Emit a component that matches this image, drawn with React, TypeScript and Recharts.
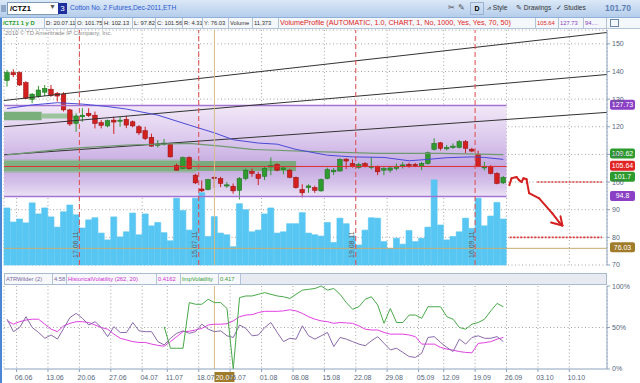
import React from "react";
import {
  ComposedChart,
  Bar,
  Line,
  XAxis,
  YAxis,
  CartesianGrid,
  ReferenceLine,
  ReferenceArea,
} from "recharts";

// trading days 02.06.11 .. 23.09.11, then empty days up to 17.10.11
const opens = [136.7,139.6,139.6,136.0,129.9,130.9,132.5,133.6,132.1,131.8, 126.1,121.2,123.6,124.9,124.2,121.5,120.3,122.4,122.1,122.7, 121.8,120.0,118.6,116.2,113.4,113.8,113.6,106.0,104.9,108.9, 102.5,97.5,97.3,101.75,101.3,98.8,98.5,97.0,101.3,103.9, 102.8,102.1,105.5,106.4,104.5,104.3,101.7,97.3,98.0,98.0, 96.8,101.3,103.7,104.0,108.3,106.7,105.3,106.7,105.3,105.7, 104.3,104.3,104.9,106.0,106.4,106.4,105.7,106.7,111.8,114.2, 112.0,112.5,112.5,114.6,111.9,110.1,105.1,105.7,103.1,99.7];
const highs = [140.6,140.8,140.0,136.5,132.2,134.8,135.1,135.1,132.6,132.5, 126.5,124.9,126.7,126.7,125.5,122.4,122.6,123.6,123.6,124.0, 122.3,120.6,120.0,117.5,115.2,115.6,114.0,106.7,109.3,109.3, 103.0,100.6,101.2,102.13,101.9,100.0,99.5,101.8,104.9,104.9, 103.7,105.8,108.9,106.8,105.7,104.8,102.0,99.2,99.2,98.7, 101.3,105.2,105.0,108.6,108.6,108.2,107.0,107.2,109.0,106.0, 105.5,105.5,106.7,107.2,107.0,106.9,107.3,111.0,115.8,114.5, 113.4,114.0,115.2,115.2,112.4,111.4,107.3,106.1,103.6,102.2];
const lows = [134.5,138.0,134.8,130.0,128.5,130.5,131.1,130.8,129.1,125.5, 120.3,118.2,121.8,123.5,119.4,119.4,119.8,117.4,120.0,119.5, 119.8,117.0,115.2,112.8,112.5,113.2,108.9,104.1,104.7,104.5, 99.3,96.4,97.0,97.82,98.2,97.9,95.8,93.7,100.6,101.9, 98.9,100.7,102.5,103.9,102.8,101.4,97.6,94.4,96.1,96.1, 96.5,101.0,102.6,103.7,104.7,105.2,104.8,105.3,104.6,102.5, 102.5,103.4,104.2,104.9,105.2,105.4,104.3,106.3,111.4,111.4, 111.4,112.0,112.2,110.5,110.8,105.4,104.2,102.8,99.2,99.3];
const closes = [139.6,138.8,135.1,130.3,131.8,133.3,133.9,131.3,131.1,126.1, 121.0,123.9,124.2,124.0,121.2,120.5,122.2,121.7,122.4,120.6, 120.3,117.8,115.7,113.0,113.7,114.1,109.1,104.3,108.8,104.8, 99.7,96.8,100.9,101.56,99.5,99.0,96.8,101.3,104.3,103.1, 101.3,104.9,105.9,104.3,105.1,101.7,98.0,96.1,98.6,97.0, 100.9,104.5,104.3,108.2,107.6,105.7,106.4,105.7,105.7,103.7, 104.9,105.1,105.7,106.2,105.9,105.9,106.7,110.6,114.0,112.2, 112.5,113.0,114.6,112.2,111.2,105.7,105.7,103.1,99.5,101.7];
const volumes = [13400,10100,10800,9900,14600,12000,13400,11300,8900,12500, 14100,11800,8700,10600,11100,7500,5900,11300,6600,7800, 12200,7100,12000,9200,10000,7600,5700,15700,12800,8200, 15700,17000,6700,11373,7500,7100,4300,14400,13000,7800, 8200,12000,13400,7500,7800,9700,9700,12300,7500,7100, 6800,10000,5300,11000,9700,6800,4700,8200,11100,11000, 5500,3900,6300,4900,8100,5500,6300,8900,20000,9400, 5900,6700,7800,11000,8600,15700,9200,11500,14700,10800];

// moving averages, read at sample days
const fastMaDays = [0,4,8,12,16,19,24,29,33,36,40,43,46,51,55,60,64,67,70,74,76,79];
const fastMa = [126.6,127.9,128.7,128.2,127.3,126.4,124.2,120.6,117.8,115.3,114.1,113.7,111.8,109.7,109.1,108.9,107.7,108.2,108.8,109.1,108.9,108.2];
const slowMaDays = [0,10,19,29,34,39,49,59,69,79];
const slowMa = [109.8,112.2,113.4,114.0,113.0,111.8,111.0,110.4,110.4,109.9];

// lower study pane (plotted in %)
const atr = [60,45,50,63,50,44,37,41,36,49, 62,67,61,53,57,50,39,51,44,44, 56,46,45,45,33,29,37,43,46,43, 45,54,48,45,46,40,38,53,49,40, 41,50,56,44,33,37,36,52,40,36, 40,44,27,38,36,33,30,28,34,39, 31,23,25,20,15,14,19,38,39,32, 26,21,36,30,38,40,37,37,39,33];
const histVol = [58,54,57,59,60,60,54,48,45,52, 55,57,57,56,53,50,48,42,37,35, 33,32,32,30,28.5,27.5,33,39,45,45.5, 47,49,53,54,54,54.5,58,63,65,65.5, 68,69.5,69.5,69.5,70,71.4,70,67,63,60, 58,57,55,56,55.5,55,52,48,47,47, 44,42,42,42,41,39,30,30,30,26, 24,22.7,21,20,19.5,30.8,31.7,33,36,38];
const impVolStart = 25;
const impVol = [51,25,25,25,80,78,78,84,80,80, 73,0,86,88,88,90,92,90,88,87, 85,90,95,96,97,100,95,97,90,80, 72,75,84,87,77,55,73,56,56,65, 65,61,75,75,75,63,60,50,48,54, 56,60,70,79,75];

// week ticks (Monday boundaries) and labels
const tickPos = [1.5,6.5,11.5,16.5,21.5,25.5,30.5,35.5,40.5,45.5,50.5,55.5,60.5,65.5,69.5,74.5,79.5,84.5,89.5];
const tickLabels = ["06.06","13.06","20.06","27.06","04.07","11.07","18.07","25.07","01.08","08.08","15.08","22.08","29.08","05.09","12.09","19.09","26.09","03.10","10.10"];
const priceTicks = [70,80,90,100,110,120,130,140,150];

// option expiries
const expiryDays = [11,30,55,74];
const expiryLabels = ["17.06.11","15.07.11","19.08.11","16.09.11"];
const cursorDay = 33;

// volume profile
const vaHigh = 127.73;
const vaLow = 94.8;
const poc = 105.64;
const yClose = 76.03;

// drawings: trend lines [x1, y1, x2, y2]
const trendLines = [[-0.5,129.5,95.5,154.1],[-0.5,120.0,95.5,138.9],[-0.5,109.85,95.5,125.2]];
const arrowPath = [[79.96,98.9],[80.3,101.4],[81.1,101.8],[81.5,100.7],[81.9,100.0],[82.2,101.4],[82.7,101.0],[82.8,99.6],[83.1,96.0],[84.7,94.1],[86.8,88.7],[87.9,85.4],[88.4,84.3]];
const arrowHead = [[86.6,85.4],[88.4,84.3],[88.1,87.6]];
const dottedLevels = [[84.4,100,94.7],[80,80,94.7]];

// right-edge price badges (text, and where the badge sits after stacking)
const badgeText = ["127.73","109.62","105.64","101.7","94.8","76.03"];
const badgeAt = [128.0,110.3,105.9,101.9,95.0,76.4];
const badgeColors = ["#8a3fc4","#2c9a2c","#e02424","#2c9a2c","#8a3fc4","#a07c2a"];

const NDAYS = 96;
const FONT = "'Liberation Sans', Arial, sans-serif";

const mainRows = Array.from({ length: NDAYS }, (_, i) => {
  const has = i < closes.length;
  const fi = fastMaDays.indexOf(i);
  const si = slowMaDays.indexOf(i);
  return {
    k: String(i),
    i,
    hl: has ? [lows[i], highs[i]] : null,
    o: has ? opens[i] : null,
    h: has ? highs[i] : null,
    l: has ? lows[i] : null,
    c: has ? closes[i] : null,
    vol: has ? volumes[i] : null,
    fast: fi >= 0 ? fastMa[fi] : null,
    slow: si >= 0 ? slowMa[si] : null,
  };
});

const lowRows = closes.map((_, i) => ({
  i,
  atr: atr[i],
  hv: histVol[i],
  iv: i >= impVolStart ? impVol[i - impVolStart] : null,
}));

function Candle(p: any) {
  const { x, y, width, height, payload } = p;
  if (!payload || payload.hl == null || !isFinite(y)) return <g />;
  const { o, c, h, l } = payload;
  const up = c >= o;
  const py = (v: number) => y + ((h - v) / (h - l)) * height;
  const cx = x + width / 2;
  const top = py(Math.max(o, c));
  const bot = py(Math.min(o, c));
  const fill = up ? "#2f9a2f" : "#d41f1f";
  const edge = up ? "#1c6a1c" : "#8a1010";
  return (
    <g>
      <line x1={cx} x2={cx} y1={y} y2={y + height} stroke={fill} strokeWidth={1} />
      <rect x={cx - 2.3} y={top} width={4.6} height={Math.max(1.2, bot - top)} fill={fill} stroke={edge} strokeWidth={0.5} />
    </g>
  );
}

function Badge(props: any) {
  const { viewBox, text, color } = props;
  if (!viewBox) return null;
  const x = viewBox.x + viewBox.width + 3;
  const y = viewBox.y;
  return (
    <g>
      <rect x={x} y={y - 5} width={25} height={10} rx={2} fill={color} />
      <text x={x + 12.5} y={y + 2.5} textAnchor="middle" fontSize={7} fill="#fff" fontFamily={FONT}>
        {text}
      </text>
    </g>
  );
}

function ExpiryLabel(props: any) {
  const { viewBox, text } = props;
  if (!viewBox) return null;
  const x = viewBox.x - 1.5;
  const y = viewBox.y + viewBox.height - 7;
  return (
    <text x={x} y={y} transform={`rotate(-90 ${x} ${y})`} fontSize={7} fill="#6a5a5a" fontFamily={FONT}>
      {text}
    </text>
  );
}

function DateBadge(props: any) {
  const { viewBox } = props;
  if (!viewBox) return null;
  const x = viewBox.x;
  const y = viewBox.y + viewBox.height + 3;
  return (
    <g>
      <rect x={x} y={y} width={20} height={10} fill="#a07c2a" />
      <text x={x + 10} y={y + 7.5} textAnchor="middle" fontSize={7} fill="#fff" fontFamily={FONT}>
        20.07
      </text>
    </g>
  );
}

function WeekTick(props: any) {
  const { x, y, payload } = props;
  const idx = tickPos.indexOf(payload.value);
  return (
    <text x={x + 7} y={y + 6} textAnchor="middle" fontSize={7} fill="#55657a" fontFamily={FONT}>
      {tickLabels[idx]}
    </text>
  );
}

const cell = (left: number, width: number, text: string, color = "#333", extra: any = {}) => (
  <div
    key={left}
    style={{
      position: "absolute",
      left,
      top: 0,
      width,
      height: "100%",
      borderRight: "1px solid #b3c4da",
      color,
      fontSize: 5.8,
      lineHeight: "10px",
      whiteSpace: "nowrap",
      overflow: "hidden",
      paddingLeft: 1,
      boxSizing: "border-box",
      ...extra,
    }}
  >
    {text}
  </div>
);

export default function App() {
  return (
    <div style={{ position: "absolute", left: 0, top: 0, width: 640, height: 383, overflow: "hidden", background: "#fff", fontFamily: FONT }}>
      {/* main price pane */}
      <div style={{ position: "absolute", left: 0, top: 0 }}>
        <ComposedChart width={640} height={270} data={mainRows} margin={{ top: 30, right: 0, left: 4, bottom: 5 }} barCategoryGap={0} barGap={0}>
          <defs>
            <linearGradient id="va" x1="0" y1="0" x2="0" y2="1">
              <stop offset="0%" stopColor="#f1e8f7" />
              <stop offset="35%" stopColor="#ddcbee" />
              <stop offset="68%" stopColor="#c4a8df" />
              <stop offset="86%" stopColor="#d6c3ea" />
              <stop offset="100%" stopColor="#ece2f6" />
            </linearGradient>
          </defs>
          <XAxis xAxisId="c1" dataKey="k" hide />
          <XAxis xAxisId="c2" dataKey="k" hide />
          <XAxis xAxisId="num" type="number" dataKey="i" domain={[-0.5, 95.5]} ticks={tickPos} allowDataOverflow hide />
          <YAxis
            yAxisId="p"
            orientation="right"
            width={33}
            domain={[70, 155]}
            ticks={priceTicks}
            allowDataOverflow
            tick={{ fontSize: 7, fill: "#55657a" }}
            tickSize={3}
            tickMargin={2}
            axisLine={{ stroke: "#8da2bf" }}
            tickLine={{ stroke: "#8da2bf" }}
          />
          <YAxis yAxisId="vol" hide domain={[0, 55200]} />

          <ReferenceArea xAxisId="num" yAxisId="p" x1={-0.5} x2={79.5} y1={vaLow} y2={vaHigh} fill="url(#va)" fillOpacity={1} stroke="none" />
          <ReferenceArea xAxisId="num" yAxisId="p" x1={-0.5} x2={5.5} y1={122.4} y2={125.4} fill="#6ea86e" fillOpacity={0.9} stroke="none" />
          <ReferenceArea xAxisId="num" yAxisId="p" x1={5.5} x2={10.5} y1={123.0} y2={124.8} fill="#93c293" fillOpacity={0.9} stroke="none" />
          <ReferenceArea xAxisId="num" yAxisId="p" x1={-0.5} x2={46} y1={104.0} y2={107.6} fill="#73a873" fillOpacity={0.9} stroke="none" />
          <ReferenceArea xAxisId="num" yAxisId="p" x1={-0.5} x2={30} y1={103.4} y2={108.2} fill="#86b886" fillOpacity={0.6} stroke="none" />

          <CartesianGrid xAxisId="num" yAxisId="p" stroke="#a5a5a5" strokeDasharray="1 2.5" />

          <ReferenceLine xAxisId="num" yAxisId="p" segment={[{ x: -0.5, y: vaHigh }, { x: 79.5, y: vaHigh }]} stroke="#a474d4" strokeWidth={1.5} ifOverflow="visible" />
          <ReferenceLine xAxisId="num" yAxisId="p" segment={[{ x: -0.5, y: vaLow }, { x: 79.5, y: vaLow }]} stroke="#a474d4" strokeWidth={1.5} ifOverflow="visible" />

          <Bar xAxisId="c2" yAxisId="vol" dataKey="vol" fill="#58c6f2" stroke="#58c6f2" strokeWidth={0.6} isAnimationActive={false} />

          {trendLines.map((t, n) => (
            <ReferenceLine key={"t" + n} xAxisId="num" yAxisId="p" segment={[{ x: t[0], y: t[1] }, { x: t[2], y: t[3] }]} stroke="#333" strokeWidth={1} ifOverflow="visible" />
          ))}

          <Line xAxisId="num" yAxisId="p" dataKey="slow" stroke="#6f9a6f" strokeWidth={1.2} dot={false} connectNulls isAnimationActive={false} />
          <Line xAxisId="num" yAxisId="p" dataKey="fast" stroke="#4a4ad8" strokeWidth={1} dot={false} connectNulls isAnimationActive={false} />

          <ReferenceLine xAxisId="num" yAxisId="p" segment={[{ x: -0.5, y: poc }, { x: 79.5, y: poc }]} stroke="#e03030" strokeWidth={1} ifOverflow="visible" />
          <ReferenceLine xAxisId="num" yAxisId="p" y={yClose} stroke="#c8ad70" strokeWidth={1} />

          {expiryDays.map((d, n) => (
            <ReferenceLine
              key={"e" + n}
              xAxisId="num"
              yAxisId="p"
              x={d + 0.5}
              stroke="#e04848"
              strokeDasharray="5 3"
              strokeWidth={1}
              label={<ExpiryLabel text={expiryLabels[n]} />}
            />
          ))}
          <ReferenceLine xAxisId="num" yAxisId="p" x={cursorDay} stroke="#d8bb86" strokeWidth={1} />

          <Bar xAxisId="c1" yAxisId="p" dataKey="hl" isAnimationActive={false} shape={(p: any) => <Candle {...p} />} />

          {arrowPath.slice(1).map((pt, n) => (
            <ReferenceLine
              key={"a" + n}
              xAxisId="num"
              yAxisId="p"
              segment={[{ x: arrowPath[n][0], y: arrowPath[n][1] }, { x: pt[0], y: pt[1] }]}
              stroke="#d42020"
              strokeWidth={2}
              strokeLinecap="round"
              ifOverflow="visible"
            />
          ))}
          {[0, 2].map((n) => (
            <ReferenceLine
              key={"h" + n}
              xAxisId="num"
              yAxisId="p"
              segment={[{ x: arrowHead[n][0], y: arrowHead[n][1] }, { x: arrowHead[1][0], y: arrowHead[1][1] }]}
              stroke="#d42020"
              strokeWidth={2}
              strokeLinecap="round"
              ifOverflow="visible"
            />
          ))}
          {dottedLevels.map((d, n) => (
            <ReferenceLine
              key={"d" + n}
              xAxisId="num"
              yAxisId="p"
              segment={[{ x: d[0], y: d[1] }, { x: d[2], y: d[1] }]}
              stroke="#e03a3a"
              strokeWidth={1.6}
              strokeDasharray="2 1.5"
              ifOverflow="visible"
            />
          ))}

          {badgeAt.map((v, n) => (
            <ReferenceLine key={"b" + n} xAxisId="num" yAxisId="p" y={v} stroke="none" label={<Badge text={badgeText[n]} color={badgeColors[n]} />} />
          ))}
        </ComposedChart>
      </div>

      {/* study pane */}
      <div style={{ position: "absolute", left: 0, top: 283 }}>
        <ComposedChart width={640} height={100} data={lowRows} margin={{ top: 3, right: 0, left: 4, bottom: 0 }}>
          <XAxis
            type="number"
            dataKey="i"
            domain={[-0.5, 95.5]}
            ticks={tickPos}
            interval={0}
            allowDataOverflow
            height={14}
            tick={<WeekTick />}
            tickSize={3}
            axisLine={{ stroke: "#8da2bf" }}
            tickLine={{ stroke: "#8da2bf" }}
          />
          <YAxis
            orientation="right"
            width={33}
            domain={[0, 100]}
            ticks={[0, 50, 100]}
            tickFormatter={(v: number) => `${v}%`}
            tick={{ fontSize: 7, fill: "#55657a" }}
            tickSize={3}
            tickMargin={2}
            axisLine={{ stroke: "#8da2bf" }}
            tickLine={{ stroke: "#8da2bf" }}
          />
          <CartesianGrid horizontal={false} stroke="#a5a5a5" strokeDasharray="1 2.5" />
          <ReferenceLine y={50} stroke="#a5a5a5" strokeDasharray="1 2.5" />
          <ReferenceLine x={cursorDay} stroke="#d8bb86" strokeWidth={1} label={<DateBadge />} />
          <Line dataKey="hv" stroke="#e040e0" strokeWidth={1} dot={false} isAnimationActive={false} />
          <Line dataKey="atr" stroke="#8a6aaa" strokeWidth={1} dot={false} isAnimationActive={false} />
          <Line dataKey="iv" stroke="#48a848" strokeWidth={1} dot={false} isAnimationActive={false} />
        </ComposedChart>
      </div>

      {/* study header */}
      <div style={{ position: "absolute", left: 4, top: 273, width: 603, height: 12, background: "#e7ebf1", border: "1px solid #a9bbd1", boxSizing: "border-box" }}>
        <div style={{ position: "absolute", left: 0, top: 0, width: 236, height: 10, background: "#f6f8fb" }} />
        {cell(0, 48, "ATRWilder (2)", "#7a6a9a")}
        {cell(48, 14, "4.58", "#7a6a9a")}
        {cell(62, 90, "HistoricalVolatility (262, 20)", "#d22fd2")}
        {cell(152, 24, "0.4162", "#d22fd2")}
        {cell(176, 38, "ImpVolatility", "#3a9a3a")}
        {cell(214, 22, "0.417", "#3a9a3a")}
      </div>

      {/* toolbar */}
      <div style={{ position: "absolute", left: 0, top: 0, width: 640, height: 18, background: "linear-gradient(#dbe8f7,#b5cdeb)", borderBottom: "1px solid #8fb0d8", boxSizing: "border-box" }}>
        <div style={{ position: "absolute", left: 1, top: 5, width: 5, height: 7, background: "#8fa8c8" }} />
        <div style={{ position: "absolute", left: 7, top: 2, width: 52, height: 13, background: "#fff", border: "1px solid #7f9db9", boxSizing: "border-box", fontSize: 7.5, fontWeight: "bold", lineHeight: "11px", paddingLeft: 2 }}>
          /CTZ1
        </div>
        <div style={{ position: "absolute", left: 49, top: 3, fontSize: 7, color: "#555" }}>▼</div>
        <div style={{ position: "absolute", left: 58, top: 3, width: 9, height: 11, background: "#1d2f9c", color: "#fff", fontSize: 8, lineHeight: "11px", textAlign: "center" }}>3</div>
        <div style={{ position: "absolute", left: 70, top: 4, fontSize: 6.6, color: "#2a58d0", whiteSpace: "nowrap" }}>Cotton No. 2 Futures,Dec-2011,ETH</div>
        <div style={{ position: "absolute", left: 448, top: 3, fontSize: 8, color: "#555" }}>✂</div>
        <div style={{ position: "absolute", left: 458, top: 3, fontSize: 8, color: "#555" }}>✎</div>
        <div style={{ position: "absolute", left: 470, top: 2, width: 14, height: 13, border: "1px solid #9ab3d3", boxSizing: "border-box", fontSize: 7, fontWeight: "bold", lineHeight: "11px", textAlign: "center" }}>D</div>
        <div style={{ position: "absolute", left: 487, top: 4, fontSize: 6.6, color: "#333", whiteSpace: "nowrap" }}>⩘ Style</div>
        <div style={{ position: "absolute", left: 516, top: 4, fontSize: 6.6, color: "#333", whiteSpace: "nowrap" }}>✎ Drawings</div>
        <div style={{ position: "absolute", left: 556, top: 4, fontSize: 6.6, color: "#333", whiteSpace: "nowrap" }}>✓ Studies</div>
        <div style={{ position: "absolute", left: 605, top: 3, fontSize: 8.5, fontWeight: "bold", color: "#5d7fb5", whiteSpace: "nowrap" }}>101.70</div>
      </div>

      {/* info row */}
      <div style={{ position: "absolute", left: 0, top: 18, width: 640, height: 11, background: "#f4f7fb", borderBottom: "1px solid #b3c4da", boxSizing: "border-box" }}>
        {cell(2, 43, "/CTZ1 1 y D", "#1a9a1a", { fontWeight: "bold" })}
        {cell(45, 31, "D: 20.07.11")}
        {cell(76, 27, "O: 101.75")}
        {cell(103, 30, "H: 102.13")}
        {cell(133, 23, "L: 97.82")}
        {cell(156, 27, "C: 101.56")}
        {cell(183, 20, "R: 4.31")}
        {cell(203, 26, "Y: 76.03")}
        {cell(229, 24, "Volume")}
        {cell(253, 26, "11,373")}
        {cell(279, 257, "VolumeProfile (AUTOMATIC, 1.0, CHART, 1, No, 1000, Yes, Yes, 70, 50)", "#e02424", { fontSize: 7.2 })}
        {cell(536, 23, "105.64", "#e02424")}
        {cell(559, 25, "127.73", "#8a3fc4")}
        {cell(584, 23, "94....", "#8a3fc4")}
        <div style={{ position: "absolute", left: 610, top: 1, width: 9, height: 8, border: "1px solid #6c86a8", boxSizing: "border-box" }} />
      </div>

      <div style={{ position: "absolute", left: 5, top: 30, fontSize: 6, color: "#8a8a8a", whiteSpace: "nowrap" }}>2010 © TD Ameritrade IP Company, Inc.</div>

      {/* window frame */}
      <div style={{ position: "absolute", left: 0, top: 18, width: 2, height: 365, background: "#4a86d4" }} />
    </div>
  );
}
